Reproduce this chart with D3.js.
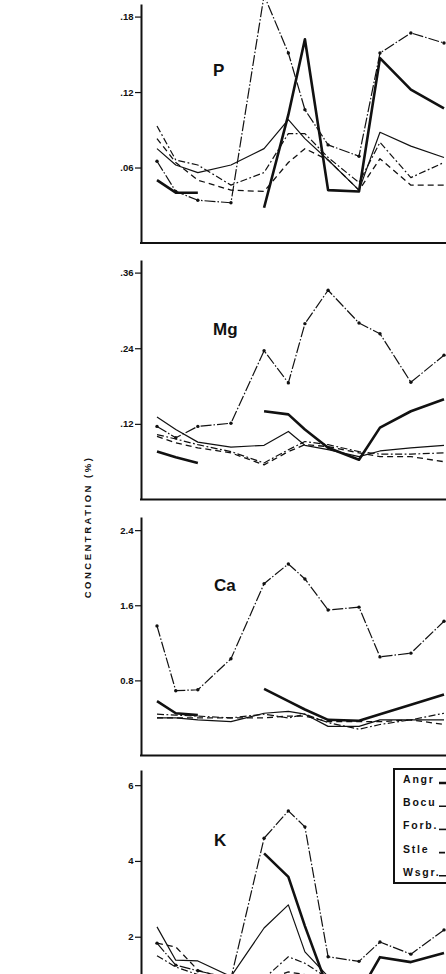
<!DOCTYPE html>
<html>
<head>
<meta charset="utf-8">
<script src="https://cdn.jsdelivr.net/npm/d3@7.9.0/dist/d3.min.js"></script>
<style>
  html, body { margin: 0; padding: 0; background: #fff; }
  svg { display: block; }
  text { font-family: "Liberation Sans", Arial, sans-serif; font-weight: bold; fill: #111; }
</style>
</head>
<body>
<div id="chart"></div>
<script>
// sampling dates, days after the first sample
const sampleDay = [0, 17, 37, 67, 97, 119, 134, 155, 183, 202, 230, 260];

const species = ["Angr", "Bocu", "Forb", "Stle", "Wsgr"];
const legendLabels = ["Angr", "Bocu", "Forb.", "Stle", "Wsgr."];

// P (%)
const pAngr = [0.050, 0.040, 0.040, null, 0.028, 0.102, 0.162, 0.042, 0.041, 0.147, 0.122, 0.107];
const pBocu = [0.075, 0.062, 0.056, 0.062, 0.075, 0.098, 0.083, 0.066, 0.042, 0.088, 0.077, 0.068];
const pForb = [0.065, 0.041, 0.034, 0.032, 0.197, 0.151, 0.106, 0.078, 0.069, 0.151, 0.167, 0.159];
const pStle = [0.083, 0.064, 0.050, 0.042, 0.041, 0.064, 0.075, 0.066, 0.042, 0.067, 0.046, 0.046];
const pWsgr = [0.093, 0.066, 0.062, 0.046, 0.056, 0.087, 0.087, 0.068, 0.048, 0.080, 0.052, 0.064];

// Mg (%)
const mgAngr = [0.076, 0.067, 0.058, null, 0.140, 0.135, 0.111, 0.082, 0.063, 0.114, 0.140, 0.159];
const mgBocu = [0.131, 0.111, 0.091, 0.083, 0.086, 0.108, 0.086, 0.079, 0.068, 0.077, 0.082, 0.086];
const mgForb = [0.116, 0.098, 0.116, 0.121, 0.236, 0.185, 0.279, 0.332, 0.280, 0.263, 0.186, 0.229];
const mgStle = [0.100, 0.090, 0.082, 0.074, 0.055, 0.076, 0.087, 0.084, 0.074, 0.068, 0.068, 0.060];
const mgWsgr = [0.103, 0.096, 0.087, 0.076, 0.058, 0.079, 0.092, 0.087, 0.076, 0.072, 0.072, 0.074];

// Ca (%)
const caAngr = [0.58, 0.45, 0.43, null, 0.71, 0.58, 0.49, 0.38, 0.37, 0.44, 0.54, 0.65];
const caBocu = [0.40, 0.40, 0.38, 0.36, 0.45, 0.47, 0.44, 0.31, 0.31, 0.38, 0.38, 0.38];
const caForb = [1.38, 0.69, 0.70, 1.03, 1.83, 2.04, 1.88, 1.55, 1.58, 1.05, 1.09, 1.43];
const caStle = [0.40, 0.40, 0.40, 0.40, 0.40, 0.42, 0.42, 0.36, 0.36, 0.36, 0.38, 0.33];
const caWsgr = [0.44, 0.43, 0.42, 0.40, 0.44, 0.40, 0.44, 0.35, 0.28, 0.33, 0.38, 0.45];

// K (%)
const kAngr = [0.90, 0.70, 0.60, null, 4.20, 3.58, 2.28, 0.62, 0.50, 1.46, 1.33, 1.57];
const kBocu = [2.26, 1.38, 1.36, 0.95, 2.23, 2.84, 1.60, 0.95, 0.80, 0.85, 0.85, 0.90];
const kForb = [1.83, 1.25, 1.10, 0.90, 4.60, 5.32, 4.90, 1.47, 1.35, 1.86, 1.54, 2.18];
const kStle = [1.83, 1.73, 1.12, 0.85, 0.85, 1.07, 1.00, 0.85, 0.75, 0.80, 0.80, 0.85];
const kWsgr = [1.50, 1.20, 1.00, 0.85, 0.90, 1.47, 1.30, 0.90, 0.80, 0.85, 0.90, 0.95];

const pTicks = [0.06, 0.12, 0.18], pTickLabels = [".06", ".12", ".18"];
const mgTicks = [0.12, 0.24, 0.36], mgTickLabels = [".12", ".24", ".36"];
const caTicks = [0.8, 1.6, 2.4], caTickLabels = ["0.8", "1.6", "2.4"];
const kTicks = [2, 4, 6], kTickLabels = ["2", "4", "6"];

const W = 446, H = 974;
const axisX = 141;

const panels = [
  { label: "P",  max: 0.19, bottom: 243,   top: 4,   ticks: pTicks,  tickLabels: pTickLabels,
    series: [pAngr, pBocu, pForb, pStle, pWsgr], lx: 213, ly: 76 },
  { label: "Mg", max: 0.38, bottom: 499.5, top: 260, ticks: mgTicks, tickLabels: mgTickLabels,
    series: [mgAngr, mgBocu, mgForb, mgStle, mgWsgr], lx: 213, ly: 335 },
  { label: "Ca", max: 2.54, bottom: 755.5, top: 517, ticks: caTicks, tickLabels: caTickLabels,
    series: [caAngr, caBocu, caForb, caStle, caWsgr], lx: 214, ly: 591 },
  { label: "K",  max: 6.4,  bottom: 1012.5, top: 770, ticks: kTicks, tickLabels: kTickLabels,
    series: [kAngr, kBocu, kForb, kStle, kWsgr], lx: 214, ly: 846 }
];

const styles = {
  Angr: { width: 2.6, dash: null },
  Bocu: { width: 1.2, dash: null },
  Forb: { width: 1.2, dash: "11,2,1.5,2", dots: true },
  Stle: { width: 1.3, dash: "6,4" },
  Wsgr: { width: 1.2, dash: "7,2.5,1.8,2.5" }
};

const svg = d3.select("#chart").append("svg")
  .attr("width", W).attr("height", H)
  .attr("viewBox", `0 0 ${W} ${H}`);

svg.append("rect").attr("width", W).attr("height", H).attr("fill", "#fff");

const x = d3.scaleLinear().domain([0, 260]).range([157, 444]);

panels.forEach(p => {
  const y = d3.scaleLinear().domain([0, p.max]).range([p.bottom, p.top]);
  const g = svg.append("g");

  // y axis
  const yAxis = d3.axisLeft(y)
    .tickValues(p.ticks)
    .tickFormat((d, i) => p.tickLabels[i])
    .tickSize(6)
    .tickSizeOuter(0)
    .tickPadding(1.5);
  const ax = g.append("g").attr("transform", `translate(${axisX},0)`).call(yAxis);
  ax.select(".domain").attr("stroke", "#111").attr("stroke-width", 2);
  ax.selectAll(".tick line").attr("stroke", "#111").attr("stroke-width", 1.2);
  ax.selectAll(".tick text")
    .attr("font-family", "'Liberation Sans', Arial, sans-serif")
    .attr("font-weight", "bold")
    .attr("font-size", 9.5)
    .attr("fill", "#111");

  // bottom axis line
  g.append("line")
    .attr("x1", axisX - 1).attr("x2", W + 5)
    .attr("y1", y(0)).attr("y2", y(0))
    .attr("stroke", "#111").attr("stroke-width", 2);

  // panel label
  g.append("text")
    .attr("x", p.lx).attr("y", p.ly)
    .attr("font-size", 17)
    .text(p.label);

  // lines
  species.forEach((name, si) => {
    const st = styles[name];
    const data = p.series[si].map((v, i) => ({ d: sampleDay[i], v: v }));
    const line = d3.line()
      .defined(d => d.v != null)
      .x(d => x(d.d))
      .y(d => y(d.v));
    g.append("path")
      .datum(data)
      .attr("d", line)
      .attr("fill", "none")
      .attr("stroke", "#111")
      .attr("stroke-width", st.width)
      .attr("stroke-linejoin", "round")
      .attr("stroke-dasharray", st.dash);
    if (st.dots) {
      g.selectAll(null)
        .data(data.filter(d => d.v != null))
        .enter().append("circle")
        .attr("cx", d => x(d.d))
        .attr("cy", d => y(d.v))
        .attr("r", 1.7)
        .attr("fill", "#111");
    }
  });
});

// y title
svg.append("text")
  .attr("transform", "translate(91,527) rotate(-90)")
  .attr("text-anchor", "middle")
  .attr("font-size", 9.5)
  .attr("letter-spacing", 2.5)
  .text("CONCENTRATION (%)");

// legend
const legend = svg.append("g");
legend.append("rect")
  .attr("x", 394).attr("y", 769)
  .attr("width", 120).attr("height", 114)
  .attr("fill", "#fff")
  .attr("stroke", "#111").attr("stroke-width", 2);

legendLabels.forEach((lab, i) => {
  const by = 783 + i * 23.2;
  legend.append("text")
    .attr("x", 403).attr("y", by)
    .attr("font-size", 10.5)
    .attr("letter-spacing", 1.8)
    .text(lab);
  const st = styles[species[i]];
  legend.append("line")
    .attr("x1", 439).attr("x2", 500)
    .attr("y1", by).attr("y2", by)
    .attr("stroke", "#111")
    .attr("stroke-width", Math.max(st.width, 1.6))
    .attr("stroke-dasharray", st.dash);
});
</script>
</body>
</html>
